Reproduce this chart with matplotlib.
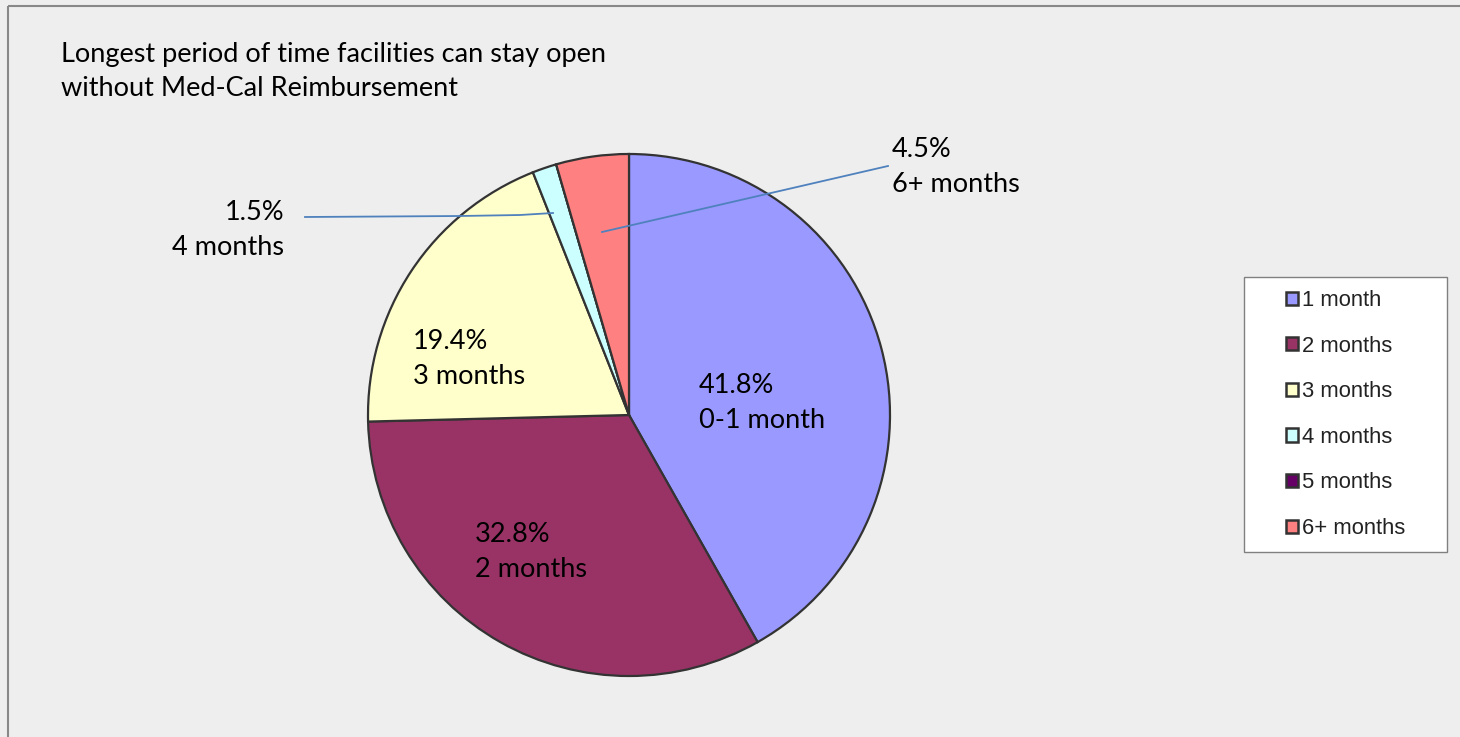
import matplotlib
matplotlib.use("Agg")
import matplotlib.pyplot as plt
from matplotlib.lines import Line2D
from matplotlib.patches import Patch, Rectangle

# Survey shares, clockwise from 12 o'clock
categories = ["1 month", "2 months", "3 months", "4 months", "5 months", "6+ months"]
shares = [41.8, 32.8, 19.4, 1.5, 0.0, 4.5]
label_names = ["0-1 month", "2 months", "3 months", "4 months", None, "6+ months"]
colors = ["#9999FF", "#993366", "#FFFFCC", "#CCFFFF", "#660066", "#FF8080"]

TITLE = "Longest period of time facilities can stay open\nwithout Med-Cal Reimbursement"

W, H = 1460, 737
BG = "#EEEEEE"
EDGE = "#333333"
LABEL_FONT = ["Lato", "DejaVu Sans"]
LEGEND_FONT = ["Liberation Sans", "DejaVu Sans"]

# pie geometry in pixels
CX, CY, R = 629, 415, 261


def px(x, y):
    """Pixel position (top-left origin) -> pie data coords."""
    return (x - CX) / R, (CY - y) / R


fig = plt.figure(figsize=(W / 100, H / 100), dpi=100, facecolor=BG)
ax = fig.add_axes([(CX - R) / W, (H - CY - R) / H, 2 * R / W, 2 * R / H])
ax.set_facecolor(BG)

wedges, _ = ax.pie(
    shares,
    colors=colors,
    startangle=90,
    counterclock=False,
    radius=1,
    wedgeprops=dict(edgecolor=EDGE, linewidth=1.6),
)
ax.set_xlim(-1, 1)
ax.set_ylim(-1, 1)
ax.set_aspect("equal")
ax.axis("off")

# data labels: (pixel x, pixel y of block centre, alignment)
label_pos = [
    (699, 403, "left"),
    (475, 552, "left"),
    (413, 359, "left"),
    (284, 230, "right"),
    None,
    (892, 167, "left"),
]
for share, name, pos in zip(shares, label_names, label_pos):
    if pos is None:
        continue
    x, y = px(pos[0], pos[1])
    ax.text(x, y, f"{share:.1f}%\n{name}", ha=pos[2], va="center",
            multialignment=pos[2], fontsize=19.5, family=LABEL_FONT,
            color="black", linespacing=1.48, clip_on=False)

# leader lines for the small slices
lead_4 = [px(305, 217), px(460, 216), px(520, 215), px(553, 213)]
lead_6 = [px(602, 232), px(888, 166)]
for pts in (lead_4, lead_6):
    xs, ys = zip(*pts)
    ax.plot(xs, ys, color="#4F81BD", linewidth=1.3, clip_on=False)

# title
fig.text(61 / W, 1 - 71.5 / H, TITLE, ha="left", va="center",
         fontsize=19.5, family=LABEL_FONT, color="black", linespacing=1.48)

# legend box
lx0, ly0, lx1, ly1 = 1244, 277, 1447, 552
fig.add_artist(Rectangle((lx0 / W, 1 - ly1 / H), (lx1 - lx0) / W, (ly1 - ly0) / H,
                         transform=fig.transFigure, facecolor="white",
                         edgecolor="#808080", linewidth=1.0))
handles = [Patch(facecolor=c, edgecolor=EDGE, linewidth=1.8) for c in colors]
fig.legend(handles, categories, loc="center",
           bbox_to_anchor=((lx0 + lx1) / 2 / W, 1 - (ly0 + ly1) / 2 / H),
           frameon=False, prop=dict(family=LEGEND_FONT, size=15.8),
           handlelength=0.55, handleheight=0.55, handletextpad=0.2,
           labelspacing=1.12, labelcolor="#222222")

# chart frame (top and left edges visible)
fig.add_artist(Line2D([8 / W, 8 / W], [-0.01, 1 - 6 / H], transform=fig.transFigure,
                      color="#888888", linewidth=1.5, solid_capstyle="butt"))
fig.add_artist(Line2D([8 / W, 1.01], [1 - 6 / H, 1 - 6 / H], transform=fig.transFigure,
                      color="#888888", linewidth=1.5, solid_capstyle="butt"))

fig.savefig("out.png", dpi=100, facecolor=BG)
plt.close(fig)
